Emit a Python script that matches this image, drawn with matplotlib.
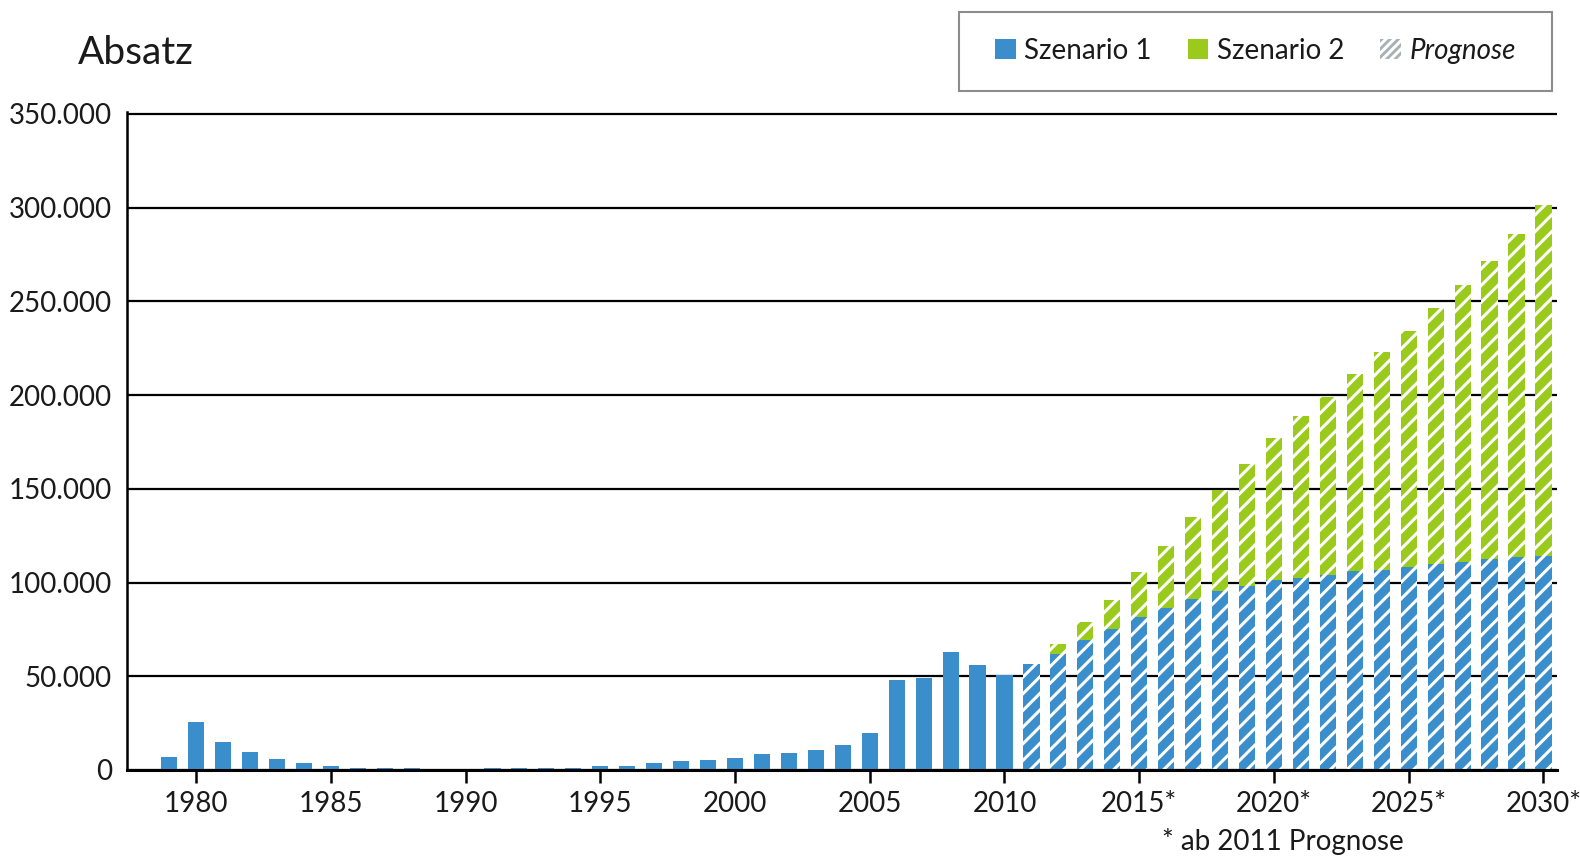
import matplotlib.pyplot as plt
from matplotlib.patches import Patch, Rectangle
from matplotlib.ticker import FuncFormatter

# --- Data ---
hist_years = list(range(1979, 2011))
hist_sales = [7000, 25700, 15000, 9400, 5900, 3500, 2000, 1200, 1000, 900,
              0, 0, 900, 900, 900, 1000, 2300, 2100, 3500, 4800,
              5100, 6200, 8300, 9200, 10600, 13500, 19900, 48200, 49300, 63000,
              55900, 50500]

prog_years = list(range(2011, 2031))
scen1 = [56700, 62100, 69200, 75400, 81600, 86600, 91300, 95400, 98400, 101100,
         102200, 104200, 105900, 106900, 108300, 109700, 111000, 112400, 113800, 114400]
scen2 = [56700, 67000, 78900, 90800, 105500, 119300, 134700, 149300, 163100, 177300,
         188700, 199000, 211500, 222800, 234000, 246700, 258500, 271800, 285700, 301400]

tick_years = [1980, 1985, 1990, 1995, 2000, 2005, 2010, 2015, 2020, 2025, 2030]
tick_labels = ["1980", "1985", "1990", "1995", "2000", "2005", "2010",
               "2015*", "2020*", "2025*", "2030*"]

BLUE = "#3a8ecb"
GREEN = "#9acb1c"
GREY = "#a7b0b2"

plt.rcParams['font.family'] = ['Lato', 'DejaVu Sans']
plt.rcParams['hatch.linewidth'] = 2.2
TXT = "#1a1a1a"

fig = plt.figure(figsize=(15.8, 8.6), dpi=100)
ax = fig.add_axes([0.0804, 0.1047, 0.905, 0.765])

w = 0.6
ax.bar(hist_years, hist_sales, width=w, color=BLUE, zorder=3)
# forecast: scenario 2 behind, scenario 1 in front, both hatched
ax.bar(prog_years, scen2, width=w, color=GREEN, edgecolor="white",
       hatch="//", linewidth=0, zorder=3)
ax.bar(prog_years, scen1, width=w, color=BLUE, edgecolor="white",
       hatch="//", linewidth=0, zorder=4)

ax.set_xlim(1977.44, 2030.5)
ax.set_ylim(0, 351000)
ax.set_yticks(range(0, 350001, 50000))
ax.yaxis.set_major_formatter(FuncFormatter(lambda v, p: f"{int(v):,}".replace(",", ".")))
ax.set_xticks(tick_years)
ax.set_xticklabels(tick_labels)

ax.grid(axis="y", color="black", linewidth=1.6, zorder=1)
ax.set_axisbelow(True)
for s in ["top", "right"]:
    ax.spines[s].set_visible(False)
ax.spines["left"].set_linewidth(1.8)
ax.spines["bottom"].set_linewidth(2.2)
ax.spines["left"].set_zorder(5)
ax.spines["bottom"].set_zorder(5)

ax.tick_params(axis="y", length=0, pad=11, labelsize=20, labelcolor=TXT)
ax.tick_params(axis="x", length=9, width=1.8, pad=6, labelsize=20, labelcolor=TXT)

fig.text(0.049, 0.925, "Absatz", fontsize=28, color=TXT, ha="left", va="baseline")
fig.text(0.7355, 0.012, "* ab 2011 Prognose", fontsize=20, color=TXT,
         ha="left", va="baseline")

# legend frame drawn separately so its padding can differ from the entries
fig.patches.append(Rectangle((959 / 1580, 1 - 91 / 860), 593 / 1580, 79 / 860,
                             transform=fig.transFigure, facecolor="white",
                             edgecolor="#8c8c8c", linewidth=1.5, zorder=0))

handles = [Patch(facecolor=BLUE, linewidth=0),
           Patch(facecolor=GREEN, linewidth=0),
           Patch(facecolor=GREY, edgecolor="white", hatch="////", linewidth=0)]
leg = fig.legend(handles, ["Szenario 1", "Szenario 2", "Prognose"],
                 loc="center", bbox_to_anchor=(0.7945, 0.941), ncol=3,
                 fontsize=20, frameon=False,
                 handlelength=0.75, handleheight=0.75,
                 handletextpad=0.3, columnspacing=1.3, borderpad=0,
                 borderaxespad=0)
for t in leg.get_texts():
    t.set_color(TXT)
leg.get_texts()[2].set_fontstyle("italic")

fig.savefig("out.png", dpi=100)
